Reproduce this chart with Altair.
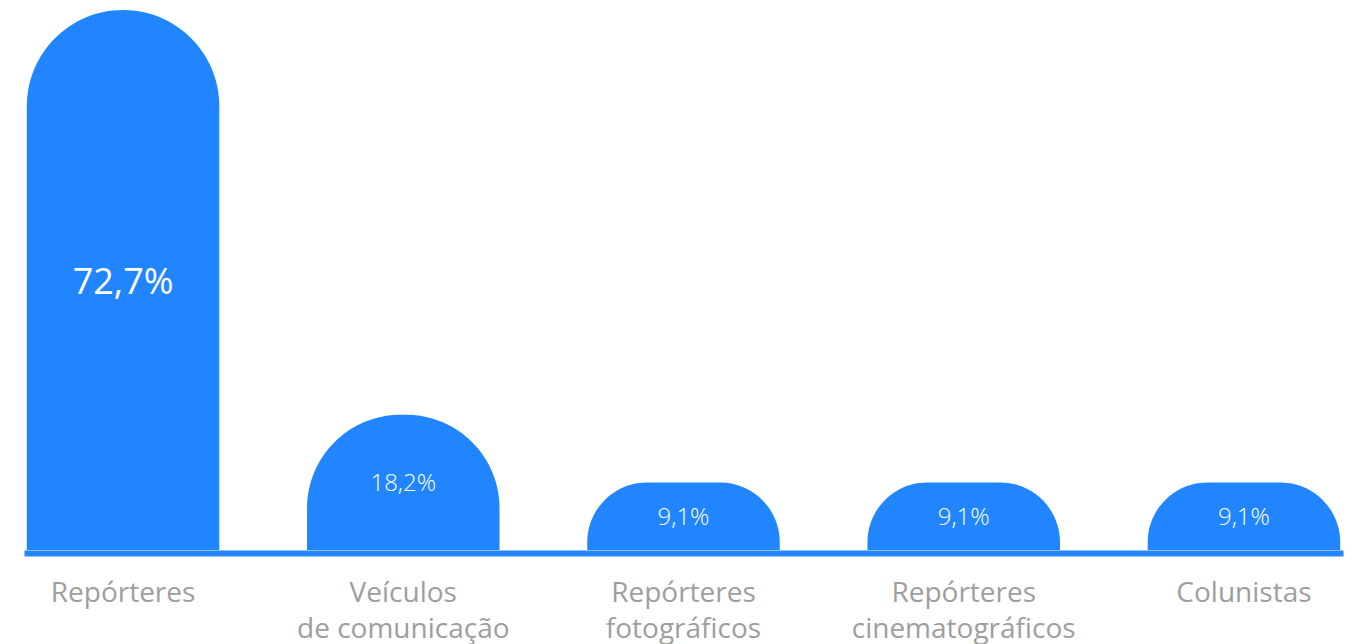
import altair as alt
import pandas as pd

categories = [
    "Repórteres",
    "Veículos\nde comunicação",
    "Repórteres\nfotográficos",
    "Repórteres\ncinematográficos",
    "Colunistas",
]
values = [72.7, 18.2, 9.1, 9.1, 9.1]
value_labels = ["72,7%", "18,2%", "9,1%", "9,1%", "9,1%"]

df = pd.DataFrame({"cat": categories, "value": values, "label": value_labels})

BLUE = "#2185FF"
GRAY = "#9E9E9E"
FONT = "Open Sans"

base = alt.Chart(df).encode(
    x=alt.X(
        "cat:N",
        sort=categories,
        scale=alt.Scale(paddingInner=0.313, paddingOuter=0.01),
        axis=alt.Axis(
            title=None,
            labelExpr="split(datum.label, '\\n')",
            labelAngle=0,
            ticks=False,
            domainColor=BLUE,
            domainWidth=6,
            offset=3,
            labelFont=FONT,
            labelFontSize=28,
            labelFontWeight=500,
            labelColor=GRAY,
            labelPadding=26,
            labelLineHeight=36,
            labelBaseline="top",
            labelLimit=400,
        ),
    )
)

yscale = alt.Scale(domain=[0, 72.7], nice=False, zero=True)

# bars start a little below the baseline (hidden by clipping) so the tops stay domed
bars = (
    base.transform_calculate(base_v="-7")
    .mark_bar(color=BLUE, cornerRadiusTopLeft=96.5, cornerRadiusTopRight=96.5, clip=True)
    .encode(y=alt.Y("value:Q", scale=yscale, axis=None), y2="base_v:Q")
)

text_big = (
    base.transform_filter("datum.value > 50")
    .transform_calculate(mid="datum.value / 2")
    .mark_text(color="white", font=FONT, baseline="middle", align="center", fontSize=36, dy=3)
    .encode(y=alt.Y("mid:Q", scale=yscale, axis=None), text="label:N")
)

text_small = (
    base.transform_filter("datum.value <= 50")
    .transform_calculate(mid="datum.value / 2")
    .mark_text(color="white", font=FONT, baseline="middle", align="center", fontSize=24,
               fontWeight=300, dy=2)
    .encode(y=alt.Y("mid:Q", scale=yscale, axis=None), text="label:N")
)

chart = (
    alt.layer(bars, text_big, text_small)
    .properties(
        width=1319,
        height=540,
        autosize=alt.AutoSizeParams(type="none"),
        padding={"left": 16, "top": 2, "right": 7, "bottom": 94},
    )
    .configure_view(stroke=None)
)

chart.save("out.html", embed_options={"renderer": "svg", "actions": False})
